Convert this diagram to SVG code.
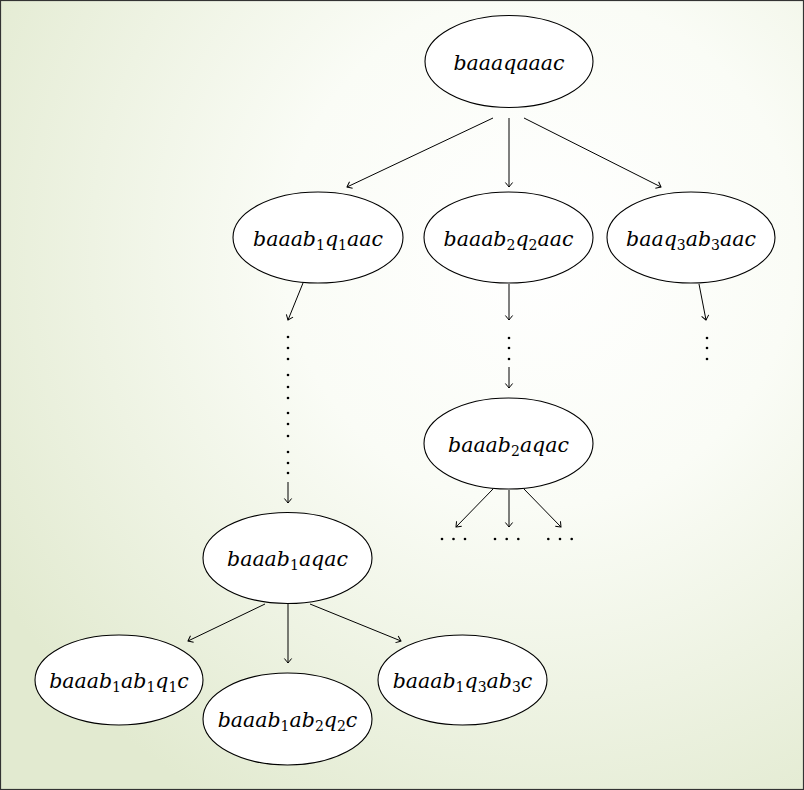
<svg xmlns="http://www.w3.org/2000/svg" width="804" height="790" viewBox="0 0 804 790">
<defs>
<radialGradient id="bg" gradientUnits="userSpaceOnUse" cx="540" cy="250" r="640">
<stop offset="0" stop-color="#ffffff"/>
<stop offset="0.4" stop-color="#fafcf6"/>
<stop offset="1" stop-color="#e2ead0"/>
</radialGradient>
<marker id="ah" markerUnits="userSpaceOnUse" markerWidth="12" markerHeight="12" refX="0" refY="0" viewBox="-6 -6 12 12" orient="auto" overflow="visible">
<path d="M -4.5 -3.6 Q -1.2 -1 0 0 Q -1.2 1 -4.5 3.6" fill="none" stroke="#000" stroke-width="1"/>
</marker>
<style>
.n ellipse{fill:#fff;stroke:#000;stroke-width:1.1}
.n text{font-family:'DejaVu Serif',serif;font-style:italic;font-size:20.5px;text-anchor:middle;fill:#000}
.s{font-style:normal;font-size:14px}
#edges line{stroke:#000;stroke-width:1;marker-end:url(#ah)}
.d{fill:#000}
</style>
</defs>
<rect x="0.5" y="0.5" width="803" height="789" fill="url(#bg)" stroke="#333" stroke-width="1.2"/>

<g id="edges">
<line x1="493" y1="118" x2="347" y2="187"/>
<line x1="509" y1="118" x2="509" y2="187"/>
<line x1="524" y1="118" x2="661" y2="187"/>
<line x1="303" y1="283" x2="288" y2="320"/>
<line x1="509" y1="284" x2="509" y2="320"/>
<line x1="699" y1="284" x2="706" y2="320"/>
<line x1="288" y1="482" x2="288" y2="503"/>
<line x1="509" y1="367" x2="509" y2="388"/>
<line x1="493" y1="489" x2="456" y2="527"/>
<line x1="509" y1="490" x2="509" y2="527"/>
<line x1="524" y1="489" x2="561" y2="527"/>
<line x1="265" y1="604" x2="188" y2="641"/>
<line x1="288" y1="604" x2="288" y2="663"/>
<line x1="310" y1="604" x2="401" y2="641"/>
</g>

<g id="dots" class="d">
<circle cx="288" cy="337" r="1.3"/><circle cx="288" cy="348" r="1.3"/><circle cx="288" cy="359" r="1.3"/>
<circle cx="288" cy="375" r="1.3"/><circle cx="288" cy="387" r="1.3"/><circle cx="288" cy="398" r="1.3"/>
<circle cx="288" cy="413" r="1.3"/><circle cx="288" cy="424" r="1.3"/><circle cx="288" cy="436" r="1.3"/>
<circle cx="288" cy="452" r="1.3"/><circle cx="288" cy="463" r="1.3"/><circle cx="288" cy="473" r="1.3"/>
<circle cx="509" cy="338" r="1.3"/><circle cx="509" cy="348" r="1.3"/><circle cx="509" cy="359" r="1.3"/>
<circle cx="707" cy="338" r="1.3"/><circle cx="707" cy="348" r="1.3"/><circle cx="707" cy="359" r="1.3"/>
<circle cx="442" cy="539" r="1.3"/><circle cx="453.5" cy="539" r="1.3"/><circle cx="465" cy="539" r="1.3"/>
<circle cx="495" cy="539" r="1.3"/><circle cx="506.7" cy="539" r="1.3"/><circle cx="518.3" cy="539" r="1.3"/>
<circle cx="548.3" cy="539" r="1.3"/><circle cx="560" cy="539" r="1.3"/><circle cx="571.7" cy="539" r="1.3"/>
</g>

<g id="n0" class="n"><ellipse cx="509" cy="61.5" rx="84" ry="46"/><text x="509" y="70">baaaqaaac</text></g>
<g id="n1" class="n"><ellipse cx="318" cy="237.5" rx="85" ry="45.5"/><text x="318" y="246">baaab<tspan class="s" dy="4">1</tspan><tspan dy="-4">q</tspan><tspan class="s" dy="4">1</tspan><tspan dy="-4">aac</tspan></text></g>
<g id="n2" class="n"><ellipse cx="508.5" cy="237.5" rx="84.5" ry="45.5"/><text x="508.5" y="246">baaab<tspan class="s" dy="4">2</tspan><tspan dy="-4">q</tspan><tspan class="s" dy="4">2</tspan><tspan dy="-4">aac</tspan></text></g>
<g id="n3" class="n"><ellipse cx="691" cy="237.5" rx="84" ry="45.5"/><text x="691" y="246">baaq<tspan class="s" dy="4">3</tspan><tspan dy="-4">ab</tspan><tspan class="s" dy="4">3</tspan><tspan dy="-4">aac</tspan></text></g>
<g id="n4" class="n"><ellipse cx="508.5" cy="443.5" rx="84.5" ry="45.5"/><text x="508.5" y="452">baaab<tspan class="s" dy="4">2</tspan><tspan dy="-4">aqac</tspan></text></g>
<g id="n5" class="n"><ellipse cx="287.5" cy="558" rx="84.5" ry="45.5"/><text x="287.5" y="566">baaab<tspan class="s" dy="4">1</tspan><tspan dy="-4">aqac</tspan></text></g>
<g id="n6" class="n"><ellipse cx="119" cy="680" rx="84" ry="45"/><text x="119" y="688">baaab<tspan class="s" dy="4">1</tspan><tspan dy="-4">ab</tspan><tspan class="s" dy="4">1</tspan><tspan dy="-4">q</tspan><tspan class="s" dy="4">1</tspan><tspan dy="-4">c</tspan></text></g>
<g id="n7" class="n"><ellipse cx="287.5" cy="719" rx="84.5" ry="46"/><text x="287.5" y="727">baaab<tspan class="s" dy="4">1</tspan><tspan dy="-4">ab</tspan><tspan class="s" dy="4">2</tspan><tspan dy="-4">q</tspan><tspan class="s" dy="4">2</tspan><tspan dy="-4">c</tspan></text></g>
<g id="n8" class="n"><ellipse cx="462.5" cy="680" rx="84.5" ry="45"/><text x="462.5" y="688">baaab<tspan class="s" dy="4">1</tspan><tspan dy="-4">q</tspan><tspan class="s" dy="4">3</tspan><tspan dy="-4">ab</tspan><tspan class="s" dy="4">3</tspan><tspan dy="-4">c</tspan></text></g>
</svg>
